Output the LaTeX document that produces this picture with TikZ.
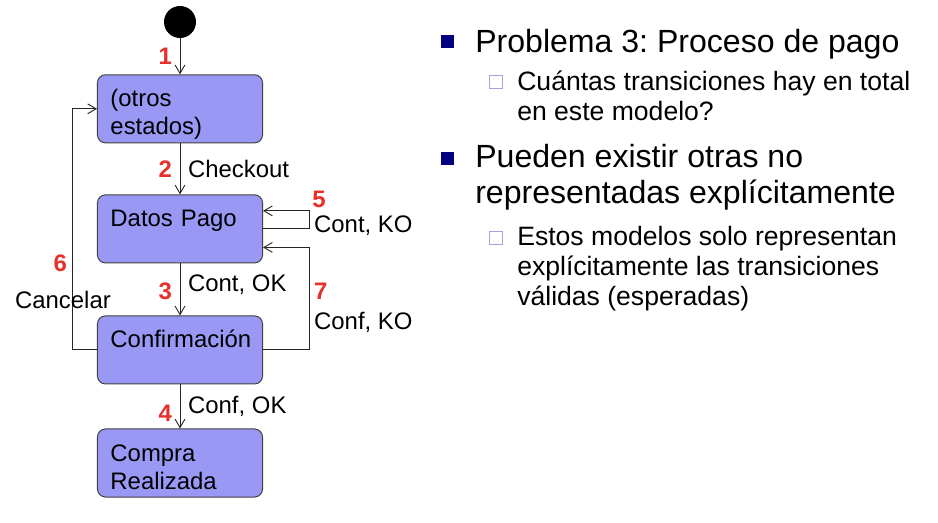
\documentclass[tikz,border=0pt]{standalone}
\usepackage{fontspec}
\setmainfont{Liberation Sans}
\usetikzlibrary{arrows.meta, positioning}
\frenchspacing

\definecolor{statefill}{RGB}{153,153,245}
\definecolor{numred}{RGB}{232,48,42}
\definecolor{bulletblue}{RGB}{0,0,128}
\definecolor{subbullet}{RGB}{165,165,215}

\newcommand{\topstrut}{\rule{0pt}{22.8pt}}
\newcommand{\botstrut}{\rule[-5.7pt]{0pt}{5.7pt}}

\begin{document}
\begin{tikzpicture}[x=0.025cm, y=-0.025cm,
	state/.style={draw=black!75, line width=0.7pt, fill=statefill, rounded corners=0.2cm,
		align=left, text width=3.475cm, inner xsep=0.325cm, inner ysep=0pt,
		font=\fontsize{17}{19.9}\selectfont},
	init/.style={circle, fill=black, minimum size=0.8cm, inner sep=0pt},
	conn/.style={draw=black!85, line width=0.65pt, -{Straight Barb[length=6pt, width=7pt]}},
	num/.style={text=numred, font=\fontsize{17}{19.9}\selectfont\bfseries, text height=12.2pt, text depth=0pt},
	lbl/.style={font=\fontsize{17}{19.9}\selectfont, text height=12.2pt, text depth=0pt},
	mainitem/.style={anchor=base west, inner sep=0pt, align=left, font=\fontsize{22.8}{25.6}\selectfont},
	subitem/.style={anchor=base west, inner sep=0pt, align=left, font=\fontsize{18.9}{21.3}\selectfont}
]

\fill[white] (0,0) rectangle (938,522);
\useasboundingbox (0,0) rectangle (938,522);

% states
\node [init] (start) at (180,22) {};
\node [state, below=0.9cm of start] (otros) {\topstrut(otros\\estados)\botstrut};
\node [state, below=1.275cm of otros] (datos) {\topstrut Datos Pago\\\botstrut};
\node [state, below=1.3cm of datos] (confirm) {\topstrut Confirmación\\\botstrut};
\node [state, below=1.1cm of confirm] (compra) {\topstrut Compra\\Realizada\botstrut};

% transitions
\draw [conn] (start) -- node [num, left, xshift=-0.075cm] {1} (otros);
\draw [conn] (otros) -- node [num, left, xshift=-0.075cm] {2} node [lbl, right, xshift=0.075cm] {Checkout} (datos);
\draw [conn] (datos) -- node [num, left, xshift=-0.075cm, pos=0.53] {3} node [lbl, right, xshift=0.075cm, pos=0.37] {Cont, OK} (confirm);
\draw [conn] (confirm) -- node [num, left, xshift=-0.075cm, pos=0.64] {4} node [lbl, right, xshift=0.075cm, pos=0.46] {Conf, OK} (compra);
\draw [conn] (datos.east) -- ++(46,0) |- node [lbl, right, pos=0.15] {Cont, KO}
	node [num, above right, inner sep=2pt, pos=0.5] {5} ([yshift=0.45cm]datos.east);
\draw [conn] (confirm.west) -- ++(-25,0) |- node [num, left, pos=0.18] {6}
	node [lbl, xshift=-0.225cm, pos=0.104] {Cancelar} (otros.west);
\draw [conn] (confirm.east) -- ++(46,0) |- node [num, right, pos=0.287] {7}
	node [lbl, right, pos=0.14] {Conf, KO} ([yshift=-0.4625cm]datos.east);

% text on the right
\fill [bulletblue] (441,35) rectangle (454,48);
\node [mainitem] (prob) at (475,52) {Problema 3: Proceso de pago};
\draw [subbullet, line width=1.2pt] (489.5,75.5) rectangle (502.5,88.5);
\node [subitem] (cuantas) at (517,120) {Cuántas transiciones hay en total\\en este modelo?};
\fill [bulletblue] (441,152) rectangle (454,165);
\node [mainitem] (pueden) at (475,203) {Pueden existir otras no\\representadas explícitamente};
\draw [subbullet, line width=1.2pt] (489.5,231.5) rectangle (502.5,244.5);
\node [subitem] (estos) at (517,305) {Estos modelos solo representan\\explícitamente las transiciones\\válidas (esperadas)};

\end{tikzpicture}
\end{document}
